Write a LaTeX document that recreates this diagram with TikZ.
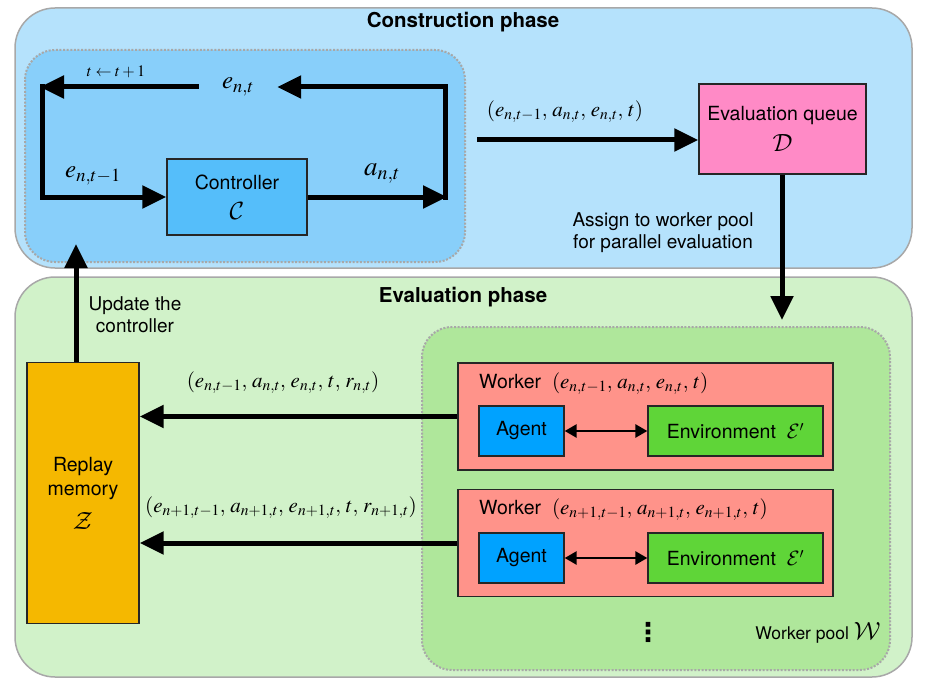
\documentclass[tikz,border=0pt]{standalone}
\usepackage{mathptmx}
\usepackage[no-math]{fontspec}
\setsansfont{TeX Gyre Heros}
\newfontfamily\dotsfont{DejaVu Sans Bold}
\usepackage{amsmath,amssymb}
\DeclareMathAlphabet{\mathcal}{OMS}{cmsy}{m}{n}
\usetikzlibrary{arrows.meta,positioning}

\definecolor{constrbg}{HTML}{B5E2FC}
\definecolor{loopbg}{HTML}{88CFFA}
\definecolor{evalbg}{HTML}{D1F2C9}
\definecolor{poolbg}{HTML}{AFE79B}
\definecolor{ctrlfill}{HTML}{55BEFA}
\definecolor{queuefill}{HTML}{FF8AC6}
\definecolor{replayfill}{HTML}{F5B800}
\definecolor{workerfill}{HTML}{FF938A}
\definecolor{agentfill}{HTML}{00A2FF}
\definecolor{envfill}{HTML}{5FD538}
\definecolor{framegray}{HTML}{A8A8A8}

\newcommand{\calsym}[2]{{\fontsize{#1}{#1}\selectfont$\mathcal{#2}$}}

\begin{document}
\begin{tikzpicture}[x=1pt,y=-1pt,
    phase/.style={draw=framegray,line width=1.5pt,rounded corners=40pt},
    inner/.style={draw=framegray,line width=2pt,dash pattern=on 2pt off 1.6pt,rounded corners=30pt},
    box/.style={draw=black!85,line width=1.3pt,font=\sffamily\fontsize{19.5}{24}\selectfont,align=center,inner sep=0pt},
    title/.style={font=\sffamily\bfseries\fontsize{20.5}{24}\selectfont},
    note/.style={font=\sffamily\fontsize{19}{22}\selectfont,align=center},
    tup/.style={font=\fontsize{21}{21}\selectfont},
    bigarrow/.style={line width=5pt,-{Triangle[length=24pt,width=22pt]}},
    thinarrow/.style={line width=2.6pt,{Triangle[length=12pt,width=13pt]}-{Triangle[length=12pt,width=13pt]}}]
	\useasboundingbox (0,0) rectangle (926,682);

	% phases
	\draw[phase,fill=constrbg] (15,8) rectangle (912,268);
	\draw[phase,fill=evalbg] (15,277) rectangle (912,677);
	\draw[inner,fill=loopbg] (25,50) rectangle (465,262);
	\draw[inner,fill=poolbg] (422,327) rectangle (890,670);
	\node[title] (cphase) at (463,22) {Construction phase};
	\node[title] (ephase) at (463,297) {Evaluation phase};

	% construction loop
	\node[box,fill=ctrlfill,minimum width=140pt,minimum height=76pt] (ctrl) at (237,197) {Controller\\[6pt]\calsym{27}{C}};
	\node[font=\fontsize{25}{25}\selectfont,inner sep=0pt,minimum width=78pt] (ent) at (238,87) {$e_{n,t}$};
	\coordinate (tl) at (40,87);
	\coordinate (tr) at (445,87);
	\coordinate (bl) at (40,197);
	\coordinate (br) at (447,197);
	\node[font=\fontsize{16}{16}\selectfont] (step) at (116,72) {$t \leftarrow t+1$};
	\node[font=\fontsize{25}{25}\selectfont] (eprev) at (93,176) {$e_{n,t-1}$};
	\node[font=\fontsize{27}{27}\selectfont] (act) at (382,174) {$a_{n,t}$};
	\draw[bigarrow] (ctrl.east) -- (br);
	\draw[bigarrow] (445,199.5) -- (tr) -- (ent.east);
	\draw[bigarrow] (ent.west) -- (tl);
	\draw[bigarrow] (42,84.5) -- (42,197) -- (ctrl.west);

	% evaluation queue
	\node[box,fill=queuefill,minimum width=167pt,minimum height=90pt] (queue) at (782.5,129) {Evaluation queue\\[7pt]\calsym{24}{D}};
	\coordinate (qsrc) at (477,140);
	\node[tup] (tuple) at (565,112) {$(e_{n,t-1},\, a_{n,t},\, e_{n,t},\, t)$};
	\draw[bigarrow] (qsrc) -- (qsrc -| queue.west);
	\coordinate (qdst) at (782,320);
	\draw[bigarrow] (queue.south -| qdst) -- (qdst);
	\node[note] (assign) at (663,233) {Assign to worker pool\\for parallel evaluation};

	% replay memory
	\node[box,fill=replayfill,minimum width=112pt,minimum height=261pt] (replay) at (83,493) {Replay\\memory\\[10pt]\calsym{32}{Z}};
	\coordinate (upd) at (76,244);
	\draw[bigarrow] (replay.north -| upd) -- (upd);
	\node[note] (updnote) at (135,315) {Update the\\controller};

	% workers
	\node[box,fill=workerfill,minimum width=375pt,minimum height=107pt] (wk1) at (645.5,416.5) {};
	\node[box,fill=workerfill,minimum width=375pt,minimum height=107pt] (wk2) at (645.5,543) {};
	\node[anchor=west,font=\sffamily\fontsize{19.5}{22}\selectfont,inner sep=0pt] (wl1) at (479,384) {Worker~~{\fontsize{21}{21}\selectfont$(e_{n,t-1},\, a_{n,t},\, e_{n,t},\, t)$}};
	\node[anchor=west,font=\sffamily\fontsize{19.5}{22}\selectfont,inner sep=0pt] (wl2) at (479,510) {Worker~~{\fontsize{21}{21}\selectfont$(e_{n+1,t-1},\, a_{n+1,t},\, e_{n+1,t},\, t)$}};
	\node[box,fill=agentfill,minimum width=85pt,minimum height=50pt] (ag1) at (521.5,431) {Agent};
	\node[box,fill=envfill,minimum width=175pt,minimum height=50pt] (env1) at (735.5,431) {Environment~~\calsym{21}{E}$'$};
	\node[box,fill=agentfill,minimum width=85pt,minimum height=50pt] (ag2) at (521.5,558) {Agent};
	\node[box,fill=envfill,minimum width=175pt,minimum height=50pt] (env2) at (735.5,558) {Environment~~\calsym{21}{E}$'$};
	\draw[thinarrow] (ag1.east) -- (env1.west);
	\draw[thinarrow] (ag2.east) -- (env2.west);
	\node[font=\dotsfont\fontsize{26}{26}\selectfont,inner sep=0pt] (dots) at (648,632) {⋮};
	\node[anchor=east,font=\sffamily\fontsize{17.5}{20}\selectfont] (pool) at (884,633) {Worker pool~\calsym{24}{W}};

	% results to replay memory
	\draw[bigarrow] (wk1.west) -- (wk1.west -| replay.east);
	\draw[bigarrow] (wk2.west) -- (wk2.west -| replay.east);
	\node[tup] (res1) at (283,383) {$(e_{n,t-1},\, a_{n,t},\, e_{n,t},\, t,\, r_{n,t})$};
	\node[tup] (res2) at (281,508) {$(e_{n+1,t-1},\, a_{n+1,t},\, e_{n+1,t},\, t,\, r_{n+1,t})$};
\end{tikzpicture}
\end{document}
